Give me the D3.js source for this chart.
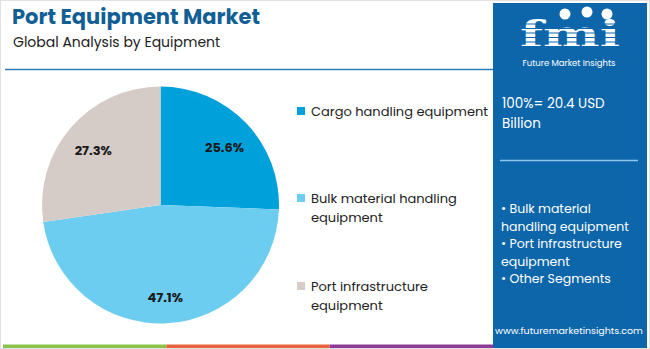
<!DOCTYPE html>
<html><head><meta charset="utf-8">
<script src="https://cdn.jsdelivr.net/npm/d3@7"></script>
<style>body{margin:0;background:#fff}svg{display:block}</style>
</head><body>
<svg id="c" width="650" height="349"></svg>
<script>
const categories = ["Cargo handling equipment", "Bulk material handling equipment", "Port infrastructure equipment"];
const legendLines = [["Cargo handling equipment"], ["Bulk material handling", "equipment"], ["Port infrastructure", "equipment"]];
const values = [25.6, 47.1, 27.3];
const colors = ["#00a1da", "#6dcdf1", "#d5cbc7"];
const title = "Port Equipment Market";
const subtitle = "Global Analysis by Equipment";
const totalLines = ["100%= 20.4 USD", "Billion"];
const segmentLines = ["• Bulk material", "handling equipment", "• Port infrastructure", "equipment", "• Other Segments"];
const website = "www.futuremarketinsights.com";
const stripeColors = ["#8bc34a", "#e8643c", "#8e3a96"];

const svg = d3.select("#c");
const font = "Poppins, 'Open Sans', Lato, sans-serif";

svg.append("rect").attr("x",0.5).attr("y",0.5).attr("width",649).attr("height",348)
  .attr("fill","#fff").attr("stroke","#e2e2e2");

svg.append("text").attr("x",12).attr("y",24).text(title)
  .attr("font-family",font).attr("font-weight",700).attr("font-size",21).attr("fill","#125f95");
svg.append("text").attr("x",13).attr("y",47).text(subtitle)
  .attr("font-family",font).attr("font-size",14).attr("fill","#222");
svg.append("line").attr("x1",5).attr("x2",493).attr("y1",69.5).attr("y2",69.5)
  .attr("stroke","#2f7fb5").attr("stroke-width",1.3);

const sx = d3.scaleBand().domain(d3.range(stripeColors.length)).range([3,493]);
svg.selectAll("rect.stripe").data(stripeColors).join("rect").attr("class","stripe")
  .attr("x",(d,i)=>sx(i)).attr("width",sx.bandwidth()).attr("y",344.5).attr("height",3.5).attr("fill",d=>d);

const cx = 160.5, cy = 205, r = 118.5;
const pie = d3.pie().sort(null).value(d=>d);
const arcs = pie(values);
const arc = d3.arc().innerRadius(0).outerRadius(r);
const g = svg.append("g").attr("transform",`translate(${cx},${cy})`);
g.selectAll("path").data(arcs).join("path").attr("d",arc).attr("fill",(d,i)=>colors[i]);
const labelArc = d3.arc().innerRadius(r*0.75).outerRadius(r*0.75);
g.selectAll("text").data(arcs).join("text")
  .attr("transform",d=>{const c=labelArc.centroid(d);return `translate(${c[0]},${c[1]+4})`;})
  .attr("text-anchor","middle").attr("dy","0.35em")
  .attr("font-family",font).attr("font-weight",700).attr("font-size",13).attr("fill","#1a1a1a")
  .text(d=>d.data.toFixed(1)+"%");

const ly = [111, 198, 286];
legendLines.forEach((lines,i)=>{
  svg.append("rect").attr("x",297).attr("y",ly[i]-4).attr("width",8).attr("height",8).attr("fill",colors[i]);
  lines.forEach((t,j)=>{
    svg.append("text").attr("x",311).attr("y",ly[i]+j*19).attr("dy","0.35em").text(t)
      .attr("font-family",font).attr("font-size",13).attr("fill","#222");
  });
});

svg.append("rect").attr("x",493).attr("y",3).attr("width",154).attr("height",345).attr("fill","#0d66aa");
const lg = svg.append("g");
lg.append("text").attr("x",520).attr("y",47).text("fmi")
  .attr("textLength",100).attr("lengthAdjust","spacingAndGlyphs")
  .attr("font-family","'DejaVu Serif', serif").attr("font-weight",700).attr("font-size",37).attr("fill","#fff");
d3.range(6).forEach(k=>{
  lg.append("line").attr("x1",518).attr("x2",622).attr("y1",24+k*4.5).attr("y2",24+k*4.5)
    .attr("stroke","#0d66aa").attr("stroke-width",1);
});
[[565,14],[587,12],[607,14]].forEach(p=>{
  lg.append("circle").attr("cx",p[0]).attr("cy",p[1]).attr("r",5.5).attr("fill","#fff");
});
lg.append("text").attr("x",569).attr("y",66).attr("text-anchor","middle").text("Future Market Insights")
  .attr("font-family",font).attr("font-size",8.5).attr("fill","#fff");

totalLines.forEach((t,i)=>{
  svg.append("text").attr("x",502).attr("y",103+i*20).attr("dy","0.35em").text(t)
    .attr("font-family",font).attr("font-size",13.5).attr("fill","#fff");
});
svg.append("line").attr("x1",500).attr("x2",638).attr("y1",160.5).attr("y2",160.5)
  .attr("stroke","#8fc6ec").attr("stroke-width",1.3);
segmentLines.forEach((t,i)=>{
  svg.append("text").attr("x",501).attr("y",209+i*17.5).attr("dy","0.35em").text(t)
    .attr("font-family",font).attr("font-size",12.5).attr("fill","#fff");
});
svg.append("text").attr("x",569).attr("y",334).attr("text-anchor","middle").text(website)
  .attr("font-family",font).attr("font-size",9.5).attr("fill","#fff");
</script>
</body></html>
